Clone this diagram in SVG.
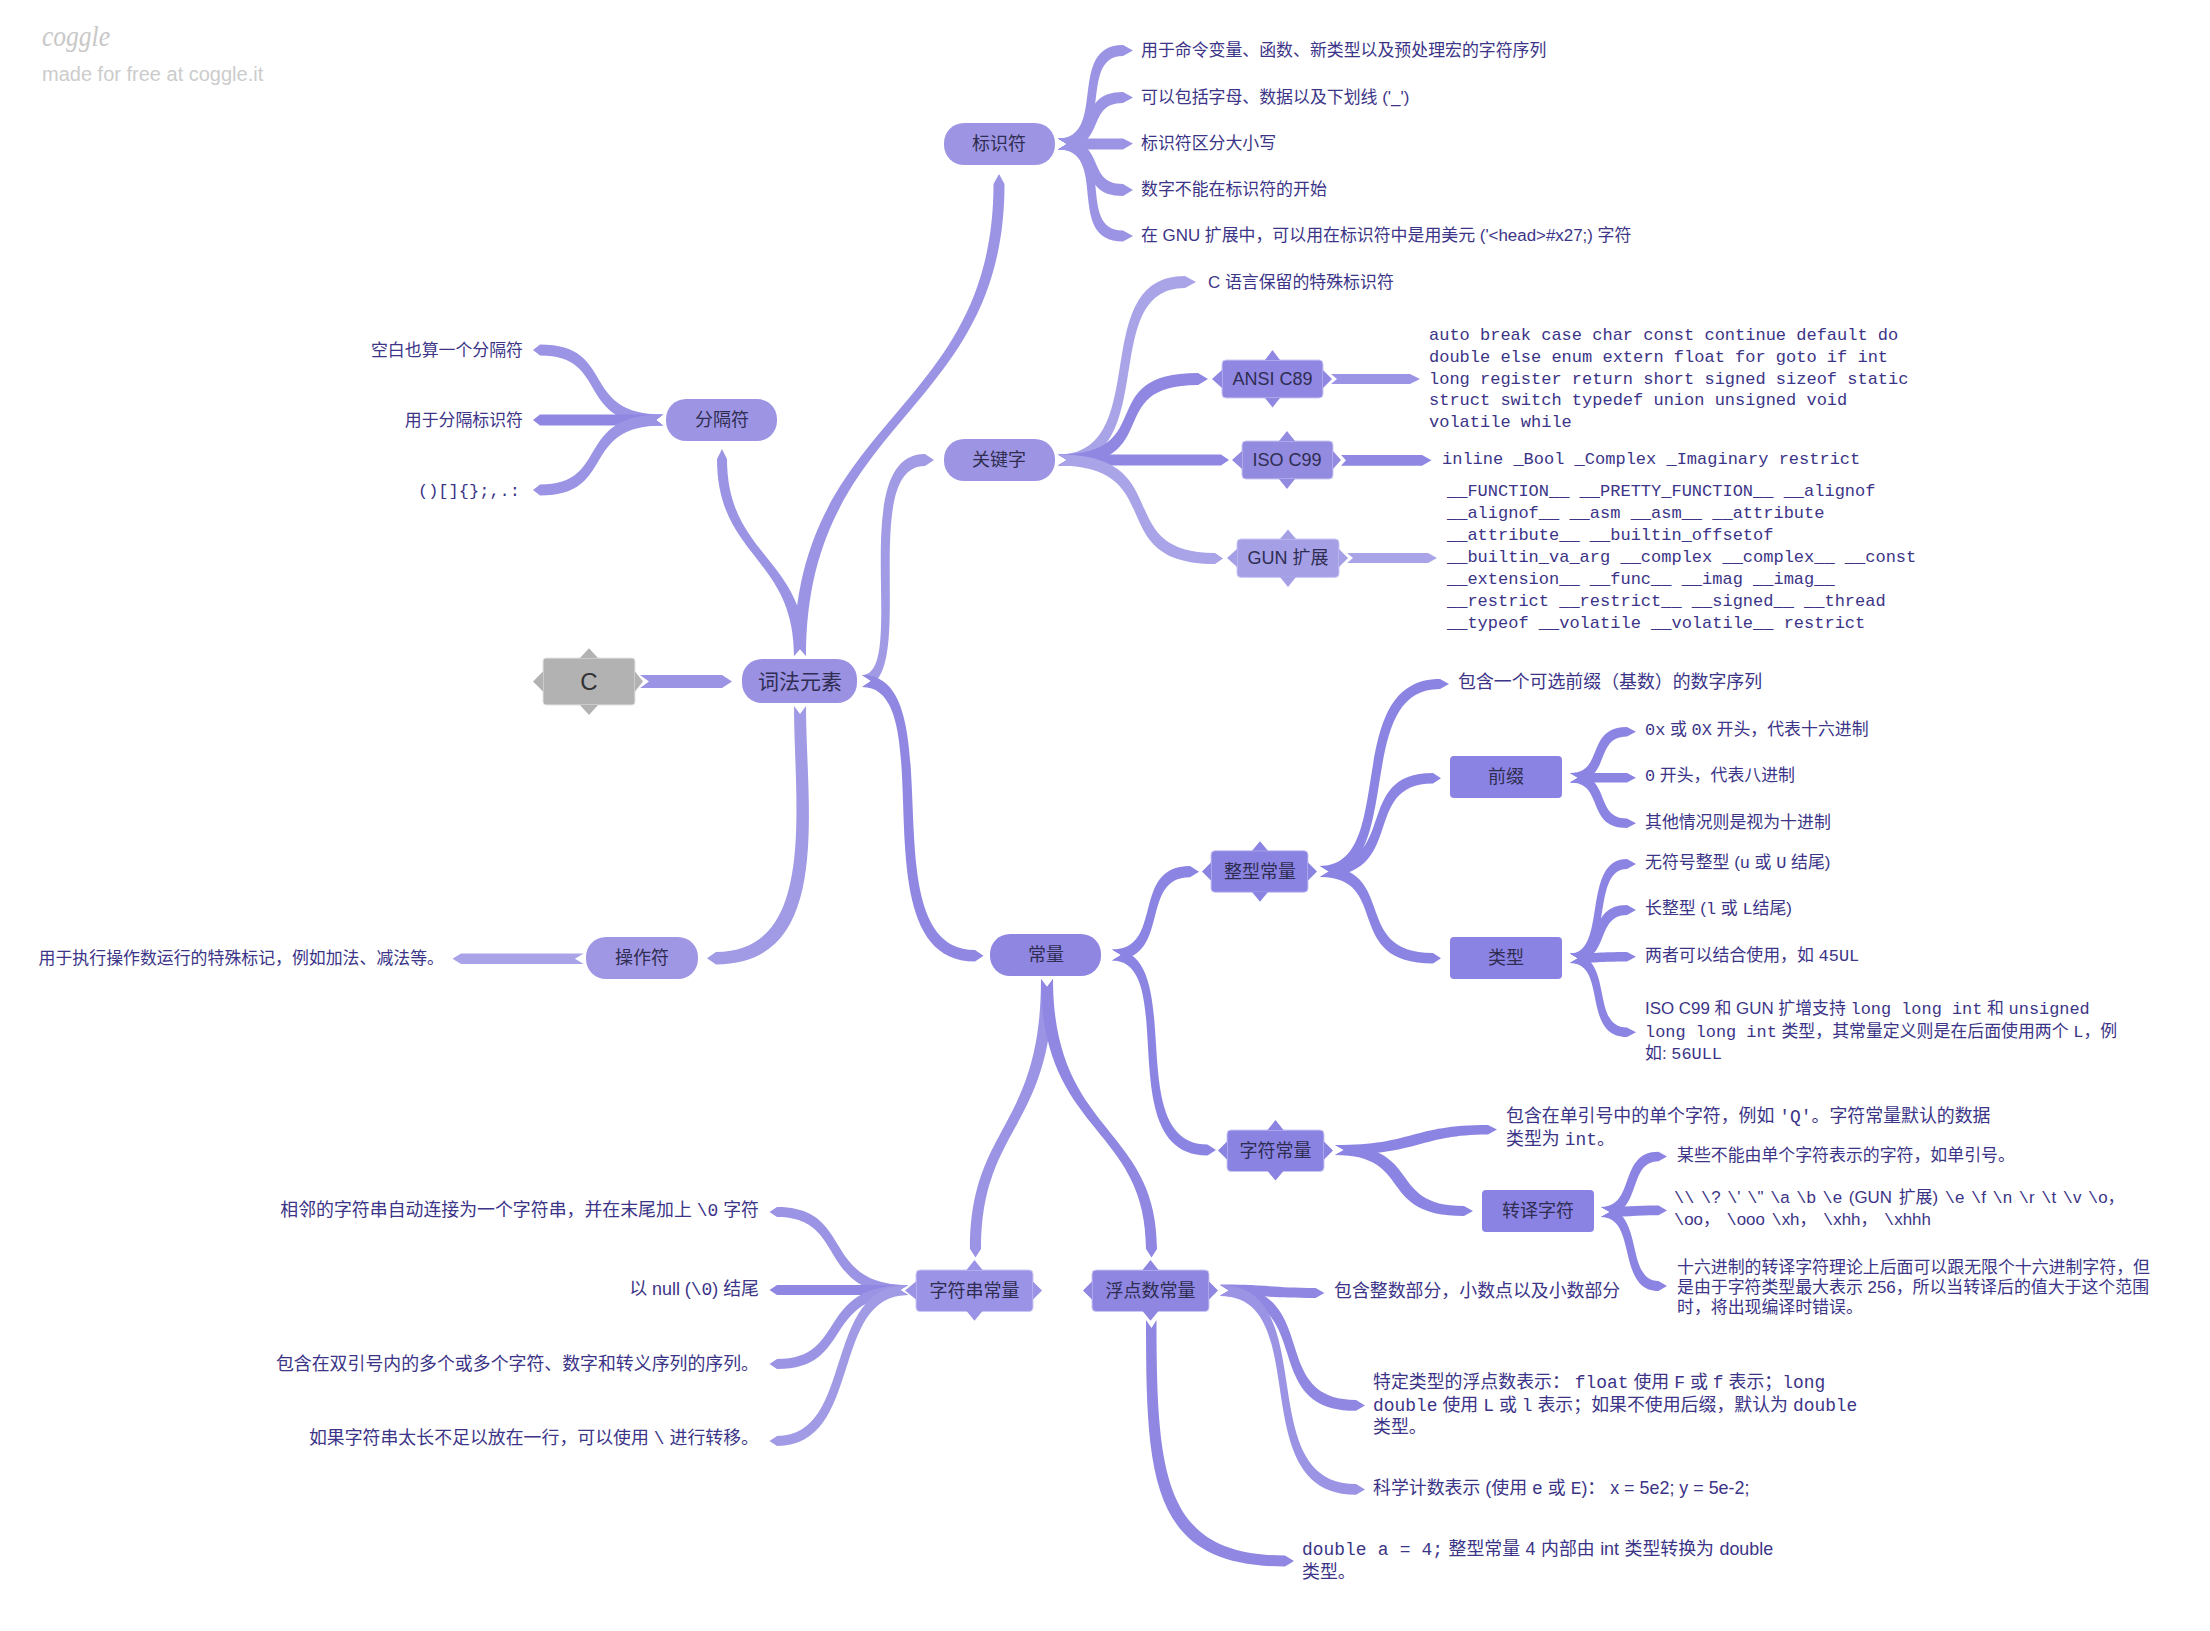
<svg xmlns="http://www.w3.org/2000/svg" width="2210" height="1631" viewBox="0 0 2210 1631">
<style>
text{font-family:"Liberation Sans","Noto Sans CJK SC",sans-serif}
.t{font-size:16.9px;fill:#3b3487}
.l{font-size:17.9px;fill:#3b3487}
.e{text-anchor:end}
.m{font-family:"Liberation Mono","Noto Sans CJK SC",monospace}
.n{font-size:18px;fill:#2f2d52;text-anchor:middle}
.a{fill:#9b93e4}.b{fill:#8f87e2}.c{fill:#a9a3e8}.d{fill:#8c84e3}.f{fill:#a19ae5}
.s{stroke:#cbc7f3;stroke-width:1}
</style>
<rect width="2210" height="1631" fill="#fff"/>
<g id="watermark">
<text x="42" y="46" font-size="30" fill="#c8c8c8" font-style="italic" textLength="68" lengthAdjust="spacingAndGlyphs" style="font-family:'Liberation Serif',cursive">coggle</text>
<text x="42" y="81" font-size="20" fill="#cccccc">made for free at coggle.it</text>
</g>
<g id="connectors">
<path class="a" d="M640,675 L722,675 L732,681.500 L722,688 L640,688 L649,681.500Z"/>
<path class="a" d="M794,656 L800,649 L806,656 C806,557 727,557 727,459 L722,449 L717,459 C717,557 794,557 794,656Z"/>
<path class="a" d="M794,656 L800,649 L806,656 C806,415 1004.500,415 1004.500,184 L999,174 L993.500,184 C993.500,415 794,415 794,656Z"/>
<path class="f" d="M794,706 L800,714 L806,706 C806,810 834,964.500 716,964.500 L707,958.300 L716,952 C818,952 794,805 794,706Z"/>
<path class="f" d="M862,675 C909,675 844,454 925,454 L934,460 L925,466 C856,466 921,687 862,687 L871,681Z"/>
<path class="b" d="M862,675 C956,675 866,950 975,950 L983.500,955.700 L975,961.500 C854,961.500 944,687 862,687 L871,681Z"/>
<path class="c" d="M583.600,953.500 L461,953.500 L452.500,958.700 L461,964 L583.600,964 L575,958.700Z"/>
<path class="a" d="M663,414.500 C578,414.500 618,344.500 540,344.500 L533,350 L540,355.500 C612,355.500 572,425.500 663,425.500 L656,420Z"/>
<path class="b" d="M663,414.500 L540,414.500 L533,420 L540,425.500 L663,425.500 L656,420Z"/>
<path class="a" d="M663,414.500 C572,414.500 612,484.500 540,484.500 L533,490 L540,495.500 C618,495.500 578,425.500 663,425.500 L656,420Z"/>
<path class="a" d="M1058,138.500 C1108,138.500 1066,45 1123,45 L1133,50.500 L1123,56 C1076,56 1118,149.500 1058,149.500 L1067,144Z"/>
<path class="a" d="M1058,138.500 C1101,138.500 1076,92 1123,92 L1133,97.600 L1123,103 C1084,103 1109,149.500 1058,149.500 L1067,144Z"/>
<path class="a" d="M1058,138.500 L1123,138.500 L1133,143.500 L1123,149.500 L1058,149.500 L1067,144Z"/>
<path class="a" d="M1058,138.500 C1109,138.500 1084,184 1123,184 L1133,190 L1123,196 C1076,196 1101,149.500 1058,149.500 L1067,144Z"/>
<path class="a" d="M1058,138.500 C1120,138.500 1074,230.500 1123,230.500 L1133,236 L1123,241.500 C1064,241.500 1110,149.500 1058,149.500 L1067,144Z"/>
<path class="c" d="M1058,454.500 C1155,454.500 1085,276 1185,276 L1196,282 L1185,288 C1095,288 1165,465.500 1058,465.500 L1067,460Z"/>
<path class="b" d="M1058,454.500 C1161,454.500 1091,373 1198,373 L1208,379 L1198,385 C1099,385 1169,465.500 1058,465.500 L1067,460Z"/>
<path class="b" d="M1058,454.500 L1221,454.500 L1229,460 L1221,465.500 L1058,465.500 L1067,460Z"/>
<path class="c" d="M1058,454.500 C1179,454.500 1109,553 1215,553 L1223,558.500 L1215,564 C1101,564 1171,465.500 1058,465.500 L1067,460Z"/>
<path class="a" d="M1331,374 L1410,374 L1420,379 L1410,384 L1331,384 L1337,379Z"/>
<path class="b" d="M1341,455 L1422,455 L1431.500,460.300 L1422,465.700 L1341,465.700 L1346,460.300Z"/>
<path class="c" d="M1347,553 L1428,553 L1437,558 L1428,563 L1347,563 L1353,558Z"/>
<path class="a" d="M1041,979 L1047,987 L1053,979 C1053,1130 981,1125 981,1249 L975.500,1257.500 L970,1249 C970,1125 1041,1130 1041,979Z"/>
<path class="b" d="M1041,979 L1047,987 L1053,979 C1053,1135 1157,1125 1157,1249 L1151.500,1257.500 L1146,1249 C1146,1125 1041,1135 1041,979Z"/>
<path class="d" d="M1112,949.500 C1165,949.500 1130,866 1190,866 L1199,871.700 L1190,877.300 C1138,877.300 1173,960.500 1112,960.500 L1121,955Z"/>
<path class="d" d="M1112,949.500 C1190,949.500 1120,1144.500 1207.500,1144.500 L1216,1150 L1207.500,1155.500 C1110,1155.500 1180,960.500 1112,960.500 L1121,955Z"/>
<path class="d" d="M1320,866 C1399,866 1339,679 1440,679 L1449,684 L1440,689 C1349,689 1409,877 1320,877 L1329,871.500Z"/>
<path class="d" d="M1320,866 C1401,866 1351,773 1433,773 L1441,778.300 L1433,783.500 C1359,783.500 1409,877 1320,877 L1329,871.500Z"/>
<path class="d" d="M1320,866 C1400,866 1349,953 1433,953 L1441,958.300 L1433,963.500 C1341,963.500 1392,877 1320,877 L1329,871.500Z"/>
<path class="d" d="M1570,773 C1605,773 1585,727 1627,727 L1636,731.700 L1627,736.500 C1593,736.500 1613,782.500 1570,782.500 L1578,777.700Z"/>
<path class="d" d="M1570,773 L1627,773 L1636,777.700 L1627,782.500 L1570,782.500 L1578,777.700Z"/>
<path class="d" d="M1570,773 C1613,773 1593,818.500 1627,818.500 L1636,823.300 L1627,828 C1585,828 1605,782.500 1570,782.500 L1578,777.700Z"/>
<path class="d" d="M1570,953.500 C1608,953.500 1581,859 1627,859 L1636,864 L1627,869 C1589,869 1616,963 1570,963 L1578,958.300Z"/>
<path class="d" d="M1570,953.500 C1604,953.500 1586,905 1627,905 L1636,910 L1627,915 C1594,915 1612,963 1570,963 L1578,958.300Z"/>
<path class="d" d="M1570,953.500 C1595,953.500 1600,952 1627,952 L1636,956.700 L1627,961.500 C1600,961.500 1595,963 1570,963 L1578,958.300Z"/>
<path class="d" d="M1570,953.500 C1616,953.500 1589,1027.500 1627,1027.500 L1636,1032.300 L1627,1037 C1581,1037 1608,963 1570,963 L1578,958.300Z"/>
<path class="d" d="M1335,1145 C1415,1145 1410,1125 1488,1125 L1497,1129.500 L1488,1134.500 C1420,1134.500 1420,1155 1335,1155 L1344,1150Z"/>
<path class="d" d="M1335,1145 C1425,1145 1385,1206 1464,1206 L1473,1211 L1464,1216 C1375,1216 1415,1155 1335,1155 L1344,1150Z"/>
<path class="d" d="M1601,1207 C1636,1207 1618,1151.800 1658.500,1151.800 L1667,1156.500 L1658.500,1161.200 C1626,1161.200 1644,1217 1601,1217 L1610,1212Z"/>
<path class="d" d="M1601,1207 C1625,1207 1635,1205.500 1658.500,1205.500 L1667,1210.400 L1658.500,1215.200 C1635,1215.200 1625,1217 1601,1217 L1610,1212Z"/>
<path class="d" d="M1601,1207 C1646,1207 1624,1281 1658.500,1281 L1667,1286 L1658.500,1291 C1616,1291 1638,1217 1601,1217 L1610,1212Z"/>
<path class="a" d="M908,1285 C820,1285 855,1207 777,1207 L769.500,1212 L777,1217 C849,1217 814,1295 908,1295 L900,1290Z"/>
<path class="b" d="M908,1285 L777,1285 L769.500,1290 L777,1295 L908,1295 L900,1290Z"/>
<path class="a" d="M908,1285 C814,1285 849,1359 777,1359 L769.500,1364 L777,1369 C855,1369 820,1295 908,1295 L900,1290Z"/>
<path class="f" d="M908,1285 C821,1285 856,1436 777,1436 L769.500,1441 L777,1446 C864,1446 829,1295 908,1295 L900,1290Z"/>
<path class="b" d="M1220,1284.600 C1270,1284.600 1270,1288 1315.600,1288 L1324.400,1293 L1315.600,1298 C1270,1298 1270,1295.600 1220,1295.600 L1229,1290.600Z"/>
<path class="b" d="M1220,1285 C1326,1285 1264,1400 1356,1400 L1365,1405.400 L1356,1410.800 C1256,1410.800 1318,1296 1220,1296 L1229,1290.600Z"/>
<path class="a" d="M1220,1285 C1324,1285 1249,1484 1356,1484 L1365,1489.400 L1356,1494.800 C1241,1494.800 1316,1296 1220,1296 L1229,1290.600Z"/>
<path class="b" d="M1146,1320 L1151.500,1328 L1156.500,1320 C1156.500,1480 1165,1555.500 1285,1555.500 L1294,1561 L1285,1566.500 C1150,1566.500 1146,1480 1146,1320Z"/>
</g>
<g id="node-c"><rect x="543" y="658" width="92" height="47" rx="3" fill="#b2b2b2" stroke="#e4e4e4"/><path d="M589,648.300 L598,658 L580,658Z M589,715 L598,705 L580,705Z M533,681.500 L543,671.500 L543,691.500Z M643,681.500 L635,671.500 L635,691.500Z" fill="#b2b2b2"/><text x="589" y="690" font-size="24" text-anchor="middle" fill="#333">C</text></g>
<g id="node-lexical"><rect x="742" y="659" width="115" height="44" rx="20" fill="#9a91e3"/><text class="n" x="800" y="688.500" style="font-size:21px">词法元素</text></g>
<g id="node-identifier"><rect x="944" y="123" width="111" height="42" rx="20" fill="#9d95e3"/><text class="n" x="999" y="150">标识符</text></g>
<g id="node-separator"><rect x="666" y="399" width="111" height="42" rx="20" fill="#9d95e3"/><text class="n" x="722" y="426">分隔符</text></g>
<g id="node-keyword"><rect x="944" y="439" width="111" height="42" rx="20" fill="#9d95e3"/><text class="n" x="999" y="466">关键字</text></g>
<g id="node-operator"><rect x="586" y="937" width="112" height="42" rx="20" fill="#a097e4"/><text class="n" x="642" y="964">操作符</text></g>
<g id="node-constant"><rect x="990" y="934" width="111" height="42" rx="20" fill="#8f86e1"/><text class="n" x="1046" y="961">常量</text></g>
<g id="node-ansi" fill="#8f87e2"><rect class="s" x="1222" y="360" width="101" height="38" rx="4"/><path d="M1272.500,350 L1280,360 L1265,360Z M1272.500,407.500 L1280,398 L1265,398Z M1212,379 L1222,370 L1222,388Z M1332,379 L1323,370 L1323,388Z"/><text class="n" x="1272.500" y="385">ANSI C89</text></g>
<g id="node-iso" fill="#938be0"><rect class="s" x="1242" y="441" width="91" height="38" rx="4"/><path d="M1287,431 L1295,441 L1279,441Z M1287,489 L1295,479 L1279,479Z M1232,460 L1242,451 L1242,469Z M1341,460 L1333,451 L1333,469Z"/><text class="n" x="1287" y="466">ISO C99</text></g>
<g id="node-gun" fill="#a59fe6"><rect class="s" x="1237" y="539" width="102" height="38.400" rx="4"/><path d="M1288,529.500 L1296,539 L1280,539Z M1288,587 L1296,577 L1280,577Z M1227,558 L1237,549 L1237,567Z M1348,558 L1339,549 L1339,567Z"/><text class="n" x="1288" y="564">GUN 扩展</text></g>
<g id="node-int" fill="#8a83e2"><rect class="s" x="1211" y="850.700" width="97" height="41.600" rx="4"/><path d="M1260,841.300 L1268,850.700 L1252,850.700Z M1260,901.700 L1268,892 L1252,892Z M1202,871.500 L1211,862.500 L1211,880.500Z M1317,871.500 L1308,862.500 L1308,880.500Z"/><text class="n" x="1260" y="878">整型常量</text></g>
<g id="node-prefix"><rect x="1450" y="756" width="112" height="42" rx="4" fill="#8b83e3"/><text class="n" x="1506" y="783">前缀</text></g>
<g id="node-type"><rect x="1450" y="937" width="112" height="42" rx="4" fill="#8b83e3"/><text class="n" x="1506" y="964">类型</text></g>
<g id="node-char" fill="#8a83e2"><rect class="s" x="1227" y="1130" width="97" height="41.500" rx="4"/><path d="M1275.500,1120 L1283.500,1130 L1267.500,1130Z M1275.500,1180.600 L1283.500,1171 L1267.500,1171Z M1218,1150.600 L1227,1141.600 L1227,1159.600Z M1333,1150.600 L1324,1141.600 L1324,1159.600Z"/><text class="n" x="1275.500" y="1157">字符常量</text></g>
<g id="node-escape"><rect x="1482" y="1190" width="112" height="42" rx="4" fill="#8b83e3"/><text class="n" x="1538" y="1217">转译字符</text></g>
<g id="node-string" fill="#9b93e6"><rect class="s" x="916" y="1270" width="117" height="41.500" rx="4"/><path d="M974.500,1260 L982.500,1270 L966.500,1270Z M974.500,1320.800 L982.500,1311 L966.500,1311Z M905,1290.500 L916,1281.500 L916,1299.500Z M1042,1290.500 L1033,1281.500 L1033,1299.500Z"/><text class="n" x="974.500" y="1297">字符串常量</text></g>
<g id="node-float" fill="#8e86e0"><rect class="s" x="1092" y="1270" width="117" height="41.500" rx="4"/><path d="M1150.500,1260 L1158.500,1270 L1142.500,1270Z M1150.500,1320.800 L1158.500,1311 L1142.500,1311Z M1083,1290.500 L1092,1281.500 L1092,1299.500Z M1218,1290.500 L1209,1281.500 L1209,1299.500Z"/><text class="n" x="1150.500" y="1297">浮点数常量</text></g>
<g id="leaf-id-1"><text class="t" x="1141" y="56">用于命令变量、函数、新类型以及预处理宏的字符序列</text></g>
<g id="leaf-id-2"><text class="t" x="1141" y="103">可以包括字母、数据以及下划线 ('_')</text></g>
<g id="leaf-id-3"><text class="t" x="1141" y="149">标识符区分大小写</text></g>
<g id="leaf-id-4"><text class="t" x="1141" y="195">数字不能在标识符的开始</text></g>
<g id="leaf-id-5"><text class="t" x="1141" y="241">在 GNU 扩展中，可以用在标识符中是用美元 ('&lt;head&gt;#x27;) 字符</text></g>
<g id="leaf-kw-1"><text class="t" x="1208" y="288">C 语言保留的特殊标识符</text></g>
<g id="leaf-ansi"><text class="t m" style="font-size:17px"><tspan x="1429" y="340">auto break case char const continue default do</tspan><tspan x="1429" y="362">double else enum extern float for goto if int</tspan><tspan x="1429" y="384">long register return short signed sizeof static</tspan><tspan x="1429" y="405">struct switch typedef union unsigned void</tspan><tspan x="1429" y="427">volatile while</tspan></text></g>
<g id="leaf-iso"><text class="t m" style="font-size:17px" x="1442" y="464">inline _Bool _Complex _Imaginary restrict</text></g>
<g id="leaf-gun"><text class="t m" style="font-size:17px"><tspan x="1447" y="496">__FUNCTION__ __PRETTY_FUNCTION__ __alignof</tspan><tspan x="1447" y="518">__alignof__ __asm __asm__ __attribute</tspan><tspan x="1447" y="540">__attribute__ __builtin_offsetof</tspan><tspan x="1447" y="562">__builtin_va_arg __complex __complex__ __const</tspan><tspan x="1447" y="584">__extension__ __func__ __imag __imag__</tspan><tspan x="1447" y="606">__restrict __restrict__ __signed__ __thread</tspan><tspan x="1447" y="628">__typeof __volatile __volatile__ restrict</tspan></text></g>
<g id="leaf-sep-1"><text class="t e" x="523" y="356">空白也算一个分隔符</text></g>
<g id="leaf-sep-2"><text class="t e" x="523" y="426">用于分隔标识符</text></g>
<g id="leaf-sep-3"><text class="t e m" style="font-size:17px" x="520" y="496">()[]{};,.:</text></g>
<g id="leaf-op"><text class="t" x="38.600" y="964">用于执行操作数运行的特殊标记，例如加法、减法等。</text></g>
<g id="leaf-int-1"><text class="l" x="1458" y="688">包含一个可选前缀（基数）的数字序列</text></g>
<g id="leaf-prefix-1"><text class="t" x="1645" y="735"><tspan class="m">0x</tspan> 或 <tspan class="m">0X</tspan> 开头，代表十六进制</text></g>
<g id="leaf-prefix-2"><text class="t" x="1645" y="781"><tspan class="m">0</tspan> 开头，代表八进制</text></g>
<g id="leaf-prefix-3"><text class="t" x="1645" y="828">其他情况则是视为十进制</text></g>
<g id="leaf-type-1"><text class="t" x="1645" y="868">无符号整型 (<tspan class="m">u</tspan> 或 <tspan class="m">U</tspan> 结尾)</text></g>
<g id="leaf-type-2"><text class="t" x="1645" y="914">长整型 (<tspan class="m">l</tspan> 或 <tspan class="m">L</tspan>结尾)</text></g>
<g id="leaf-type-3"><text class="t" x="1645" y="961">两者可以结合使用，如 <tspan class="m">45UL</tspan></text></g>
<g id="leaf-type-4"><text class="t"><tspan x="1645" y="1014">ISO C99 和 GUN 扩增支持 <tspan class="m">long long int</tspan> 和 <tspan class="m">unsigned</tspan></tspan><tspan x="1645" y="1037"><tspan class="m">long long int</tspan> 类型，其常量定义则是在后面使用两个 <tspan class="m">L</tspan>，例</tspan><tspan x="1645" y="1059">如: <tspan class="m">56ULL</tspan></tspan></text></g>
<g id="leaf-char-1"><text class="l"><tspan x="1506" y="1122">包含在单引号中的单个字符，例如 <tspan class="m">'Q'</tspan>。字符常量默认的数据</tspan><tspan x="1506" y="1145">类型为 <tspan class="m">int</tspan>。</tspan></text></g>
<g id="leaf-esc-1"><text class="t" x="1677" y="1161">某些不能由单个字符表示的字符，如单引号。</text></g>
<g id="leaf-esc-2"><text class="t" style="word-spacing:2px"><tspan x="1674" y="1203"><tspan class="m">\\</tspan> <tspan class="m">\</tspan>? <tspan class="m">\</tspan>' <tspan class="m">\</tspan>" <tspan class="m">\</tspan>a <tspan class="m">\</tspan>b <tspan class="m">\</tspan>e (GUN 扩展) <tspan class="m">\</tspan>e <tspan class="m">\</tspan>f <tspan class="m">\</tspan>n <tspan class="m">\</tspan>r <tspan class="m">\</tspan>t <tspan class="m">\</tspan>v <tspan class="m">\</tspan>o，</tspan><tspan x="1674" y="1225"><tspan class="m">\</tspan>oo， <tspan class="m">\</tspan>ooo <tspan class="m">\</tspan>xh， <tspan class="m">\</tspan>xhh， <tspan class="m">\</tspan>xhhh</tspan></text></g>
<g id="leaf-esc-3"><text class="t"><tspan x="1677" y="1273">十六进制的转译字符理论上后面可以跟无限个十六进制字符，但</tspan><tspan x="1677" y="1293">是由于字符类型最大表示 256，所以当转译后的值大于这个范围</tspan><tspan x="1677" y="1313">时，将出现编译时错误。</tspan></text></g>
<g id="leaf-str-1"><text class="l e" x="759" y="1216">相邻的字符串自动连接为一个字符串，并在末尾加上 <tspan class="m">\0</tspan> 字符</text></g>
<g id="leaf-str-2"><text class="l e" x="759" y="1295">以 null (<tspan class="m">\0</tspan>) 结尾</text></g>
<g id="leaf-str-3"><text class="l e" x="759" y="1370">包含在双引号内的多个或多个字符、数字和转义序列的序列。</text></g>
<g id="leaf-str-4"><text class="l e" x="759" y="1444">如果字符串太长不足以放在一行，可以使用 <tspan class="m">\</tspan> 进行转移。</text></g>
<g id="leaf-float-1"><text class="l" x="1334" y="1297">包含整数部分，小数点以及小数部分</text></g>
<g id="leaf-float-2"><text class="l"><tspan x="1373" y="1388">特定类型的浮点数表示： <tspan class="m">float</tspan> 使用 <tspan class="m">F</tspan> 或 <tspan class="m">f</tspan> 表示；<tspan class="m">long</tspan></tspan><tspan x="1373" y="1411"><tspan class="m">double</tspan> 使用 <tspan class="m">L</tspan> 或 <tspan class="m">l</tspan> 表示；如果不使用后缀，默认为 <tspan class="m">double</tspan></tspan><tspan x="1373" y="1433">类型。</tspan></text></g>
<g id="leaf-float-3"><text class="l" x="1373" y="1494">科学计数表示 (使用 <tspan class="m">e</tspan> 或 <tspan class="m">E</tspan>)： x = 5e2; y = 5e-2;</text></g>
<g id="leaf-float-4"><text class="l" style="word-spacing:.5px"><tspan x="1302" y="1555"><tspan class="m">double a = 4;</tspan> 整型常量 4 内部由 int 类型转换为 double</tspan><tspan x="1302" y="1578">类型。</tspan></text></g>
</svg>
